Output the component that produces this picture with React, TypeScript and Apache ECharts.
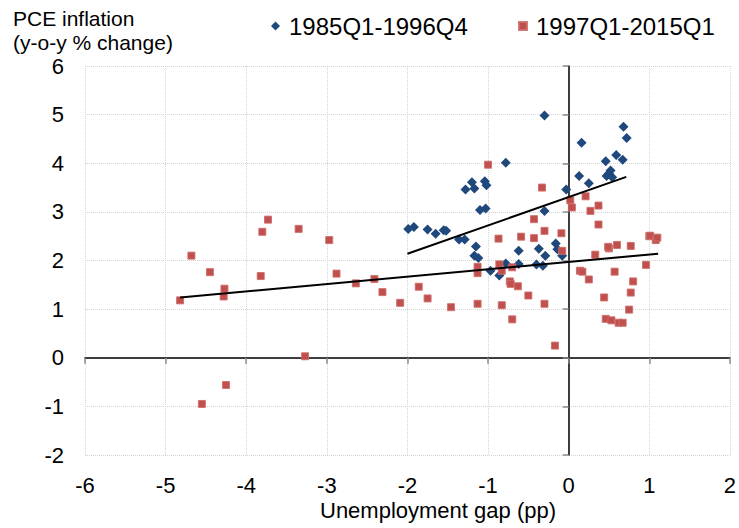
import React, { useEffect, useRef } from "react";
import * as echarts from "echarts";

const seriesNames = ["1985Q1-1996Q4", "1997Q1-2015Q1"];
const yTitleLines = ["PCE inflation", "(y-o-y % change)"];
const xTitle = "Unemployment gap (pp)";

// [unemployment gap, PCE inflation]
const period1985: number[][] = [
  [-1.99, 2.65], [-1.92, 2.69], [-1.75, 2.64], [-1.65, 2.55], [-1.55, 2.62], [-1.52, 2.61],
  [-1.36, 2.43], [-1.29, 2.43], [-1.28, 3.46], [-1.2, 3.61], [-1.17, 3.48], [-1.15, 2.29],
  [-1.17, 2.1], [-1.12, 2.05], [-1.1, 3.04], [-1.04, 3.63], [-1.03, 3.07], [-1.02, 3.55],
  [-0.97, 1.79], [-0.86, 1.69], [-0.78, 4.01], [-0.78, 1.94], [-0.62, 2.2], [-0.62, 1.93],
  [-0.4, 1.92], [-0.37, 2.24], [-0.32, 1.89], [-0.3, 4.98], [-0.3, 3.02], [-0.29, 2.1],
  [-0.16, 2.35], [-0.14, 2.23], [-0.08, 2.1], [-0.03, 3.46], [0.13, 3.74], [0.16, 4.42],
  [0.25, 3.59], [0.46, 4.04], [0.47, 3.74], [0.5, 3.79], [0.52, 3.85], [0.54, 3.71],
  [0.59, 4.17], [0.67, 4.07], [0.68, 4.75], [0.72, 4.52],
];

const period1997: number[][] = [
  [-4.82, 1.18], [-4.68, 2.1], [-4.55, -0.95], [-4.45, 1.76], [-4.27, 1.42], [-4.28, 1.26],
  [-4.25, -0.56], [-3.8, 2.59], [-3.73, 2.84], [-3.82, 1.68], [-3.35, 2.65], [-3.27, 0.03],
  [-2.97, 2.42], [-2.88, 1.73], [-2.64, 1.53], [-2.41, 1.62], [-2.31, 1.35], [-2.09, 1.13],
  [-1.86, 1.46], [-1.75, 1.22], [-1.46, 1.04], [-1.13, 1.87], [-1.13, 1.74], [-1.13, 1.11],
  [-1.0, 3.97], [-0.87, 2.45], [-0.86, 1.92], [-0.83, 1.79], [-0.83, 1.08], [-0.7, 1.86],
  [-0.73, 1.57], [-0.72, 1.52], [-0.7, 0.79], [-0.63, 1.47], [-0.59, 2.49], [-0.5, 1.28],
  [-0.43, 2.85], [-0.43, 2.46], [-0.33, 3.5], [-0.3, 2.61], [-0.3, 1.11], [-0.17, 0.25],
  [-0.09, 2.56], [-0.08, 2.2], [0.02, 3.24], [0.04, 3.09], [0.14, 1.79], [0.17, 1.77],
  [0.21, 3.32], [0.25, 1.61], [0.27, 3.02], [0.33, 2.12], [0.37, 3.13], [0.37, 2.74],
  [0.44, 1.24], [0.46, 0.8], [0.5, 2.25], [0.49, 2.28], [0.53, 0.77], [0.57, 1.77],
  [0.6, 2.32], [0.62, 0.72], [0.67, 0.72], [0.75, 0.99], [0.77, 2.3], [0.77, 1.34],
  [0.8, 1.57], [0.96, 1.91], [1.0, 2.5], [1.01, 2.51], [1.08, 2.42], [1.1, 2.47],
];

const trend1985: number[][] = [[-2.0, 2.14], [0.715, 3.72]];
const trend1997: number[][] = [[-4.82, 1.24], [1.11, 2.14]];

const X_MIN = -6, X_MAX = 2, Y_MIN = -2, Y_MAX = 6;

export default function App() {
  const ref = useRef<HTMLDivElement>(null);
  useEffect(() => {
    const chart = echarts.init(ref.current!, null, { renderer: "svg" });
    const font = "'Liberation Sans', Arial, sans-serif";
    const gridColor = "#d4d4d4";
    const blue = "#1F497D";
    const red = "#C0504D";
    const legendText = { fontSize: 24, color: "#000", fontFamily: font, padding: [0, 0, 0, 4] };
    chart.setOption({
      animation: false,
      backgroundColor: "#ffffff",
      grid: { left: 85, right: 9, top: 66, bottom: 73 },
      legend: [
        {
          data: [{ name: seriesNames[0], icon: "diamond" }],
          left: 266, top: 9, itemWidth: 9, itemHeight: 9,
          textStyle: legendText, selectedMode: false,
        },
        {
          data: [{ name: seriesNames[1], icon: "rect" }],
          left: 513, top: 9, itemWidth: 8, itemHeight: 8,
          textStyle: legendText, selectedMode: false,
        },
      ],
      xAxis: [
        {
          type: "value", min: X_MIN, max: X_MAX, interval: 1, position: "bottom",
          axisLine: { show: false, onZero: false },
          axisTick: { show: false },
          axisLabel: { fontSize: 22, lineHeight: 20, color: "#000", fontFamily: font, margin: 20 },
          splitLine: { show: true, lineStyle: { color: gridColor, type: "dotted", width: 1 } },
        },
        {
          type: "value", min: X_MIN, max: X_MAX, interval: 1, position: "bottom",
          axisLine: { show: true, onZero: true, onZeroAxisIndex: 0, lineStyle: { color: "#000", width: 1.5 } },
          axisTick: { show: true, length: 6, lineStyle: { color: "#8a8a8a", width: 1.5 } },
          axisLabel: { show: false },
          splitLine: { show: false },
        },
      ],
      yAxis: [
        {
          type: "value", min: Y_MIN, max: Y_MAX, interval: 1, position: "left",
          axisLine: { show: false, onZero: false },
          axisTick: { show: false },
          axisLabel: { fontSize: 22, color: "#000", fontFamily: font, margin: 21 },
          splitLine: { show: true, lineStyle: { color: gridColor, type: "dotted", width: 1 } },
        },
        {
          type: "value", min: Y_MIN, max: Y_MAX, interval: 1, position: "left",
          axisLine: { show: true, onZero: true, onZeroAxisIndex: 0, lineStyle: { color: "#000", width: 1.5 } },
          axisTick: { show: true, length: 6, lineStyle: { color: "#8a8a8a", width: 1.5 } },
          axisLabel: { show: false },
          splitLine: { show: false },
        },
      ],
      graphic: [
        {
          type: "text", x: 13, y: 18,
          style: { text: yTitleLines[0], fill: "#000", font: `21px ${font}`, verticalAlign: "middle" },
        },
        {
          type: "text", x: 13, y: 42,
          style: { text: yTitleLines[1], fill: "#000", font: `21px ${font}`, verticalAlign: "middle" },
        },
        {
          type: "text", left: 320, top: 499,
          style: { text: xTitle, fill: "#000", font: `22px ${font}`, lineHeight: 20 },
        },
      ],
      series: [
        {
          name: seriesNames[0], type: "scatter", symbol: "diamond", symbolSize: 10,
          itemStyle: { color: blue, opacity: 1 },
          data: period1985, z: 3,
        },
        {
          name: seriesNames[1], type: "scatter", symbol: "rect", symbolSize: 7,
          itemStyle: { color: red, borderColor: "rgba(205,110,108,0.9)", borderWidth: 1, opacity: 1 },
          data: period1997, z: 3,
        },
        {
          type: "line", data: trend1985, symbol: "none", silent: true, z: 4,
          lineStyle: { color: "#000", width: 2 },
        },
        {
          type: "line", data: trend1997, symbol: "none", silent: true, z: 4,
          lineStyle: { color: "#000", width: 2 },
        },
      ],
    });
    return () => chart.dispose();
  }, []);
  return (
    <div
      ref={ref}
      style={{ position: "fixed", left: 0, top: 0, width: 739, height: 528, background: "#fff" }}
    />
  );
}
